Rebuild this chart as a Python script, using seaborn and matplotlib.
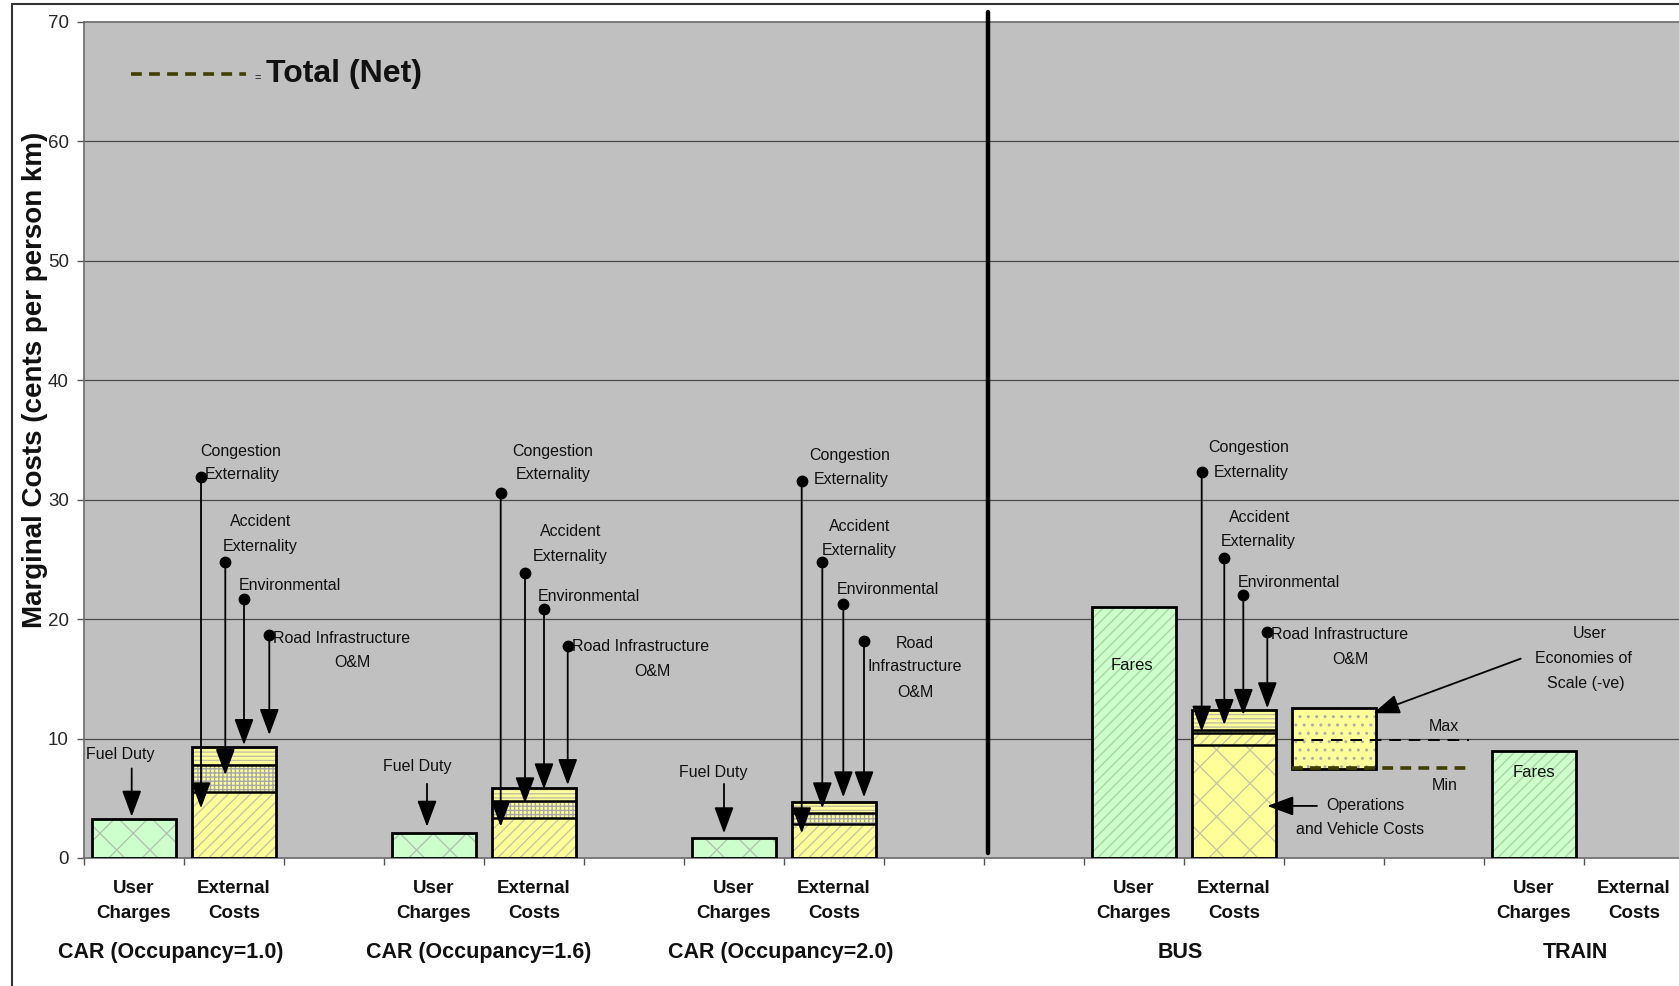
import matplotlib
matplotlib.use("Agg")
import matplotlib.pyplot as plt
import seaborn as sns
from matplotlib.lines import Line2D

# ---------------------------------------------------------------------------
# Marginal costs, cents per person km
# ---------------------------------------------------------------------------
modes = ["CAR (Occupancy=1.0)", "CAR (Occupancy=1.6)", "CAR (Occupancy=2.0)", "BUS", "TRAIN"]
user_labels = ["Fuel Duty", "Fuel Duty", "Fuel Duty", "Fares", "Fares"]
user_charges = [3.3, 2.08, 1.7, 21.0, 9.0]

# external cost components (car 1.0, car 1.6, car 2.0, bus)
operations = [0.0, 0.0, 0.0, 9.45]
congestion = [5.5, 3.35, 2.85, 1.05]
accident = [2.3, 1.45, 0.95, 0.2]
environmental = [1.2, 0.8, 0.7, 1.4]
road_om = [0.3, 0.22, 0.2, 0.3]

# bus user economies of scale (-ve) and resulting net totals
econ_top = 12.55
econ_bottom = 7.45
net_max = 9.9
net_min = 7.55

y_ticks = [0, 10, 20, 30, 40, 50, 60, 70]

# ---------------------------------------------------------------------------
# Layout / style
# ---------------------------------------------------------------------------
sns.set_theme(style="white")
plt.rcParams["font.family"] = ["Liberation Sans", "DejaVu Sans"]
plt.rcParams["hatch.linewidth"] = 1.0

GREEN = "#CCFFCC"
YELLOW = "#FFFF99"
BG = "#C0C0C0"
OLIVE = "#3f3f00"
W = 0.84
ARROW = dict(arrowstyle="-|>,head_length=1.35,head_width=0.5", mutation_scale=12,
             lw=1.3, color="black", shrinkA=0, shrinkB=0)

group_start = [0, 3, 6, 10, 14]

fig = plt.figure(figsize=(16.79, 9.86), dpi=100)
fig.patch.set_facecolor("white")
ax = fig.add_axes([84 / 1679, 128 / 986, 1600 / 1679, 836 / 986])
ax.set_facecolor(BG)
ax.set_xlim(0, 16)
ax.set_ylim(0, 70)
ax.set_axisbelow(True)

for v in y_ticks[1:-1]:
    ax.axhline(v, color="#4a4a4a", lw=0.9, zorder=1)

ax.set_yticks(y_ticks)
ax.set_yticklabels([str(v) for v in y_ticks], fontsize=13.5)
ax.set_xticks(range(0, 17))
ax.set_xticklabels([])
ax.tick_params(axis="both", direction="out", length=5, width=1, color="#555555",
               left=True, bottom=True, pad=6)
for side in ["left", "top", "bottom"]:
    ax.spines[side].set_color("#6a6a6a")
    ax.spines[side].set_linewidth(1.2)
ax.spines["right"].set_visible(False)


def hatched(x, h, bottom, face, hatch, hcolor):
    ax.bar(x, h, bottom=bottom, width=W, color=face, edgecolor="none", lw=0, zorder=2)
    if hatch:
        ax.bar(x, h, bottom=bottom, width=W, facecolor="none", edgecolor=hcolor,
               hatch=hatch, lw=0, zorder=3)


def outline(x, top, bottom=0.0):
    ax.bar(x, top - bottom, bottom=bottom, width=W, facecolor="none",
           edgecolor="black", lw=2.0, zorder=5)


# user charge bars
for i, g in enumerate(group_start):
    xc = g + 0.5
    if i < 3:
        hatched(xc, user_charges[i], 0, GREEN, "x", "#b0c4b0")
    else:
        hatched(xc, user_charges[i], 0, GREEN, "///", "#a9d6a9")
    outline(xc, user_charges[i])

# external cost stacks
for i in range(4):
    xc = group_start[i] + 1.5
    base = 0.0
    layers = [
        (operations[i], "x", "#c8c8a0"),
        (congestion[i], "///", "#c8c8a0"),
        (accident[i], "++++", "#a8a8a8"),
        (environmental[i], "----", "#c0c0a0"),
        (road_om[i], "----", "#c0c0a0"),
    ]
    bounds = []
    for k, (h, hatch, hc) in enumerate(layers):
        if h <= 0:
            continue
        hatched(xc, h, base, YELLOW, hatch, hc)
        base += h
        if k < 3:
            bounds.append(base)
    for b in bounds:
        ax.hlines(b, xc - W / 2, xc + W / 2, color="black", lw=1.8, zorder=5)
    outline(xc, base)

# bus economies of scale box and net range
xe = group_start[3] + 2.5
hatched(xe, econ_top - econ_bottom, econ_bottom, YELLOW, "..", "#b0b0a0")
outline(xe, econ_top, econ_bottom)
ax.plot([xe - W / 2, 13.85], [net_max, net_max], color="black", lw=1.4,
        dashes=(6, 4), zorder=6)
ax.plot([xe - W / 2, 13.85], [net_min, net_min], color=OLIVE, lw=2.6,
        dashes=(3, 2), zorder=6)

# separator between car and public transport modes
ax.plot([9.04, 9.04], [0.4, 70.8], color="black", lw=3.2, zorder=6, clip_on=False)

# ---------------------------------------------------------------------------
# Annotations
# ---------------------------------------------------------------------------
ANN = 11.5


def txt(x, y, s, **kw):
    ax.text(x, y, s, fontsize=kw.pop("fontsize", ANN), ha="center", va="center",
            color="#111111", zorder=8, **kw)


def pointer(x0, y0, x1, y1, dot=True):
    ax.annotate("", xy=(x1, y1), xytext=(x0, y0), arrowprops=ARROW, zorder=7)
    if dot:
        ax.plot(x0, y0, "o", color="black", ms=7.5, zorder=7)


# (x, dot, tip) for congestion, accident, environmental, road O&M
arrows = [
    [(1.17, 31.88, 4.16), (1.413, 24.8, 6.95), (1.60, 21.7, 9.46), (1.853, 18.68, 10.3)],
    [(4.167, 30.54, 2.62), (4.41, 23.9, 4.58), (4.60, 20.83, 5.75), (4.837, 17.76, 6.11)],
    [(7.177, 31.6, 2.07), (7.383, 24.82, 4.16), (7.593, 21.25, 5.08), (7.80, 18.17, 5.08)],
    [(11.177, 32.3, 10.58), (11.403, 25.1, 11.14), (11.593, 22.03, 11.98), (11.833, 18.96, 12.54)],
]
for grp in arrows:
    for x, y0, y1 in grp:
        pointer(x, y0, x, y1)

# car 1.0
txt(1.57, 34.0, "Congestion"); txt(1.58, 32.1, "Externality")
txt(1.77, 28.2, "Accident"); txt(1.76, 26.1, "Externality")
txt(2.06, 22.8, "Environmental")
txt(2.58, 18.34, "Road Infrastructure"); txt(2.685, 16.36, "O&M")
# car 1.6
txt(4.685, 34.0, "Congestion"); txt(4.693, 32.1, "Externality")
txt(4.868, 27.33, "Accident"); txt(4.86, 25.24, "Externality")
txt(5.045, 21.89, "Environmental")
txt(5.567, 17.7, "Road Infrastructure"); txt(5.68, 15.6, "O&M")
# car 2.0
txt(7.66, 33.67, "Congestion"); txt(7.668, 31.66, "Externality")
txt(7.76, 27.75, "Accident"); txt(7.748, 25.74, "Externality")
txt(8.04, 22.45, "Environmental")
txt(8.31, 17.96, "Road"); txt(8.31, 16.0, "Infrastructure"); txt(8.31, 13.83, "O&M")
# bus
txt(11.65, 34.4, "Congestion"); txt(11.668, 32.3, "Externality")
txt(11.758, 28.5, "Accident"); txt(11.743, 26.5, "Externality")
txt(12.048, 23.06, "Environmental")
txt(12.56, 18.68, "Road Infrastructure"); txt(12.665, 16.58, "O&M")
txt(12.815, 4.36, "Operations"); txt(12.757, 2.35, "and Vehicle Costs")
pointer(12.33, 4.36, 11.833, 4.36, dot=False)
txt(13.6, 11.0, "Max"); txt(13.61, 6.11, "Min")
txt(15.06, 18.77, "User"); txt(14.993, 16.67, "Economies of"); txt(15.02, 14.63, "Scale (-ve)")
pointer(14.367, 16.69, 12.893, 12.12, dot=False)

# user charge labels
fuel_text = [(0.36, 8.63), (3.336, 7.64), (6.293, 7.14)]
fuel_arrow = [(0.477, 7.5, 3.46), (3.43, 6.21, 2.62), (6.40, 6.2, 2.07)]
for i in range(3):
    txt(*fuel_text[i], user_labels[i])
    x, y0, y1 = fuel_arrow[i]
    pointer(x, y0, x, y1, dot=False)
txt(10.477, 16.16, user_labels[3], fontsize=12)
txt(14.497, 7.15, user_labels[4], fontsize=12)

# total (net) key
ax.plot([0.466, 1.623], [65.67, 65.67], color=OLIVE, lw=2.6, dashes=(3, 2), zorder=6)
ax.text(1.74, 65.3, "=", fontsize=8, ha="center", va="center", color="#111111")
ax.text(1.82, 65.67, "Total (Net)", fontsize=23, fontweight="bold", ha="left",
        va="center", color="#111111")

# category labels below the axis
xt = ax.get_xaxis_transform()
for i, g in enumerate(group_start):
    for dx, l1, l2 in [(0.5, "User", "Charges"), (1.5, "External", "Costs")]:
        ax.text(g + dx, -0.0359, l1, transform=xt, ha="center", va="center",
                fontsize=13.5, fontweight="bold", color="#111111")
        ax.text(g + dx, -0.0664, l2, transform=xt, ha="center", va="center",
                fontsize=13.5, fontweight="bold", color="#111111")
group_x = [0.87, 3.95, 6.97, 10.96, 14.91]
for gx, name in zip(group_x, modes):
    ax.text(gx, -0.1136, name, transform=xt, ha="center", va="center",
            fontsize=15.5, fontweight="bold", color="#111111")

fig.text(35 / 1679, 1 - 380 / 986, "Marginal Costs (cents per person km)", rotation=90,
         ha="center", va="center", fontsize=20, fontweight="bold", color="#111111")

# chart frame
fig.add_artist(Line2D([12 / 1679, 12 / 1679], [0, 1 - 4 / 986], transform=fig.transFigure,
                      color="#333333", lw=1.5))
fig.add_artist(Line2D([12 / 1679, 1], [1 - 4 / 986, 1 - 4 / 986], transform=fig.transFigure,
                      color="#333333", lw=1.5))

fig.savefig("out.png", dpi=100, facecolor="white")
